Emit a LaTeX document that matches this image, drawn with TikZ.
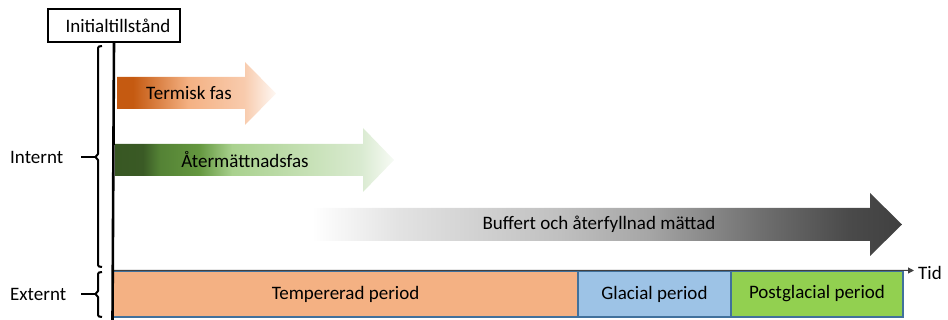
\documentclass[tikz,border=0pt]{standalone}
\usepackage{fontspec}
\setmainfont{Carlito}
\usetikzlibrary{arrows.meta}
\definecolor{orA}{HTML}{C55A11}
\definecolor{orB}{HTML}{F4B183}
\definecolor{orC}{HTML}{F8CBAD}
\definecolor{orD}{HTML}{FEF8F4}
\definecolor{grA}{HTML}{385723}
\definecolor{grB}{HTML}{3A5A25}
\definecolor{grC}{HTML}{548235}
\definecolor{grD}{HTML}{64973F}
\definecolor{grE}{HTML}{A9D18E}
\definecolor{grF}{HTML}{C5E0B4}
\definecolor{grG}{HTML}{D9EAD0}
\definecolor{grH}{HTML}{F7FBF5}
\definecolor{gyA}{HTML}{FFFFFF}
\definecolor{gyB}{HTML}{E2E2E2}
\definecolor{gyC}{HTML}{C0C0C0}
\definecolor{gyD}{HTML}{A6A6A6}
\definecolor{gyE}{HTML}{6F6F6F}
\definecolor{gyF}{HTML}{4A4A4A}
\definecolor{gyG}{HTML}{404040}
\definecolor{tempcol}{HTML}{F4B183}
\definecolor{glaccol}{HTML}{9DC3E6}
\definecolor{postcol}{HTML}{92D050}
\definecolor{boxline}{HTML}{41719C}
\definecolor{axiscol}{HTML}{404040}
\pgfdeclarehorizontalshading{orangefade}{100bp}{color(0bp)=(orA); color(25bp)=(orA); color(30bp)=(orA); color(47.5bp)=(orB); color(65bp)=(orC); color(75bp)=(orD); color(100bp)=(orD)}
\pgfdeclarehorizontalshading{greenfade}{100bp}{color(0bp)=(grA); color(25bp)=(grA); color(30bp)=(grB); color(33bp)=(grC); color(40bp)=(grD); color(46bp)=(grE); color(59bp)=(grF); color(69bp)=(grG); color(75bp)=(grH); color(100bp)=(grH)}
\pgfdeclarehorizontalshading{grayfade}{100bp}{color(0bp)=(gyA); color(25bp)=(gyA); color(32.5bp)=(gyB); color(46bp)=(gyC); color(53.5bp)=(gyD); color(63bp)=(gyE); color(70.5bp)=(gyF); color(75bp)=(gyG); color(100bp)=(gyG)}
\tikzset{
  lbl/.style={font=\fontsize{19}{22}\selectfont, inner sep=0pt},
  period/.style={draw=boxline, line width=1.3pt, minimum height=46pt, inner sep=0pt, font=\fontsize{19}{22}\selectfont},
  brace/.style={line width=2pt, line join=round},
}
\begin{document}
\begin{tikzpicture}[x=1pt,y=-1pt]
\useasboundingbox (0,0) rectangle (948,320);
% phase arrows
\shade[shading=orangefade] (117,77) -- (245,77) -- (245,62) -- (276,93.5) -- (245,125) -- (245,109) -- (117,109) -- cycle;
\node[lbl] (termisk) at (189,93) {Termisk fas};
\shade[shading=greenfade] (115,144) -- (363,144) -- (363,128) -- (394,160) -- (363,192) -- (363,176) -- (115,176) -- cycle;
\node[lbl] (ater) at (245,160) {Återmättnadsfas};
\shade[shading=grayfade] (312,208) -- (870,208) -- (870,193) -- (902,224.5) -- (870,256) -- (870,241) -- (312,241) -- cycle;
\node[lbl] (buffert) at (599,224) {Buffert och återfyllnad mättad};
% period boxes
\node[period, fill=tempcol, minimum width=465pt] (temp) at (345.5,294) {Tempererad period};
\node[period, fill=glaccol, minimum width=153pt] (glac) at (654.5,294) {Glacial period};
\node[period, fill=postcol, minimum width=172pt] (post) at (817,294) {Postglacial period};
% time axis
\coordinate (tidend) at (914,270.5);
\draw[axiscol, line width=1pt, -{Triangle[length=6pt,width=6pt]}] (temp.north west) -- (tidend);
\node[lbl, anchor=west] (tid) at (918,273) {Tid};
% initial state box and timeline
\node[draw, line width=2pt, minimum width=132pt, minimum height=33pt, inner sep=0pt, font=\fontsize{19}{22}\selectfont] (init) at (114,25.5) {\hspace{8pt}Initialtillstånd};
\coordinate (tlbot) at (112.5,320);
\draw[line width=2.6pt] (init.south) -- (tlbot);
% braces
\node[lbl, anchor=west] (intern) at (10,157) {Internt};
\node[lbl, anchor=west] (extern) at (10,294.5) {Externt};
\coordinate (ibrace) at (95.5,157);
\coordinate (ebrace) at (95.5,294);
\draw[brace] (102,46) -- (99,46.5) -- (98,48) -- (98,154) -- (95.5,157) -- (98,160) -- (98,265) -- (99,266.5) -- (102,267);
\draw[brace] (81,157) -- (ibrace);
\draw[brace] (102,272) -- (99,272.5) -- (98,274) -- (98,291) -- (95.5,294) -- (98,297) -- (98,315) -- (99,316.5) -- (102,317);
\draw[brace] (81,294) -- (ebrace);
\end{tikzpicture}
\end{document}
